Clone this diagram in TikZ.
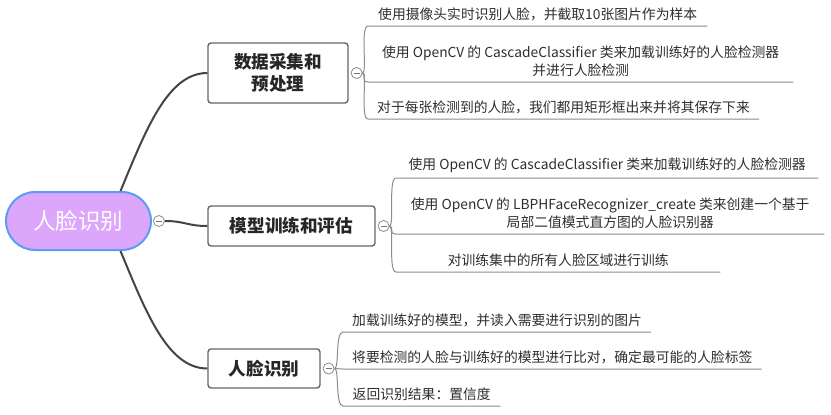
\documentclass[tikz,border=0pt]{standalone}
\usepackage{fontspec}
\setmainfont{Noto Sans CJK SC}
\usepackage{tikz}
\usetikzlibrary{positioning}
\definecolor{rootfill}{HTML}{DCA6FA}
\definecolor{rootdraw}{HTML}{5B9CF5}
\definecolor{mainline}{HTML}{444444}
\definecolor{twigline}{HTML}{8C8C8C}
\tikzstyle{rootnode} = [rectangle, rounded corners=29pt,
minimum width=145pt,
minimum height=58pt,
text centered,
draw=rootdraw, line width=2pt,
fill=rootfill, text=white,
font=\fontsize{22.5}{26}\selectfont]
\tikzstyle{topic} = [rectangle, rounded corners=3pt,
text centered, align=center,
draw=black!60, line width=1.4pt,
fill=white, text=black!85,
font=\bfseries\fontsize{17.6}{22}\selectfont]
\tikzstyle{fold} = [circle, draw=black!45, fill=white,
minimum size=11pt, inner sep=0pt, line width=0.8pt,
path picture={\draw[black!55] ([xshift=-3pt]path picture bounding box.center) -- ([xshift=3pt]path picture bounding box.center);}]
\tikzstyle{leaf} = [anchor=south west,
inner xsep=9pt, inner ysep=5pt,
align=center, text=black!82,
font=\fontsize{13.8}{18}\selectfont]
\tikzstyle{branch} = [mainline, line width=2pt]
\tikzstyle{twig} = [twigline, line width=1pt]

\begin{document}
\begin{tikzpicture}[x=1pt, y=-1pt]
\useasboundingbox (0,0) rectangle (831,415);

\node (root) [rootnode] at (78.5,221) {人脸识别};
\node (rf) [fold, right=1pt of root] {};

\node (b1) [topic, minimum width=140pt, minimum height=60pt] at (278,73) {数据采集和\\预处理};
\node (b2) [topic, minimum width=167pt, minimum height=40pt] at (291.5,226) {模型训练和评估};
\node (b3) [topic, minimum width=112pt, minimum height=39pt] at (264,368.5) {人脸识别};
\node (f1) [fold, right=2pt of b1] {};
\node (f2) [fold, right=2pt of b2] {};
\node (f3) [fold, right=2pt of b3] {};

% leaves, placed at the start of their underline
\node (l11) [leaf, minimum width=339pt] at (368,26) {使用摄像头实时识别人脸，并截取10张图片作为样本};
\node (l12) [leaf, minimum width=425pt] at (368,82) {使用 OpenCV 的 CascadeClassifier 类来加载训练好的人脸检测器\\并进行人脸检测};
\node (l13) [leaf, minimum width=390pt] at (368,119) {对于每张检测到的人脸，我们都用矩形框出来并将其保存下来};
\node (l21) [leaf, minimum width=422pt] at (396,178) {使用 OpenCV 的 CascadeClassifier 类来加载训练好的人脸检测器};
\node (l22) [leaf, minimum width=428pt] at (396,234) {使用 OpenCV 的 LBPHFaceRecognizer\_create 类来创建一个基于\\局部二值模式直方图的人脸识别器};
\node (l23) [leaf, minimum width=324pt] at (396,272) {对训练集中的所有人脸区域进行训练};
\node (l31) [leaf, minimum width=306pt] at (343,332) {加载训练好的模型，并读入需要进行识别的图片};
\node (l32) [leaf, minimum width=415pt] at (343,369) {将要检测的人脸与训练好的模型进行比对，确定最可能的人脸标签};
\node (l33) [leaf, minimum width=157pt] at (343,406) {返回识别结果：置信度};

\draw [branch] ([xshift=42pt]root.north) .. controls +(25,-60) and +(-40,0) .. (b1.west);
\draw [branch] (rf.east) .. controls +(20,0) and +(-20,0) .. (b2.west);
\draw [branch] ([xshift=42pt]root.south) .. controls +(25,60) and +(-40,0) .. (b3.west);

\foreach \f/\l in {f1/l11, f1/l12, f1/l13, f2/l21, f2/l22, f2/l23, f3/l31, f3/l32, f3/l33}
  \draw [twig] (\f.east) .. controls +(5,0) and +(-8,0) .. (\l.south west) -- (\l.south east);
\end{tikzpicture}
\end{document}
